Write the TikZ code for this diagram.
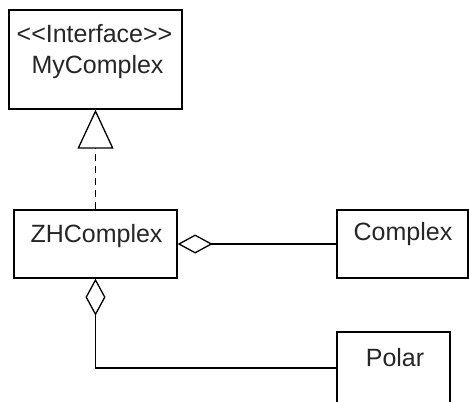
\documentclass[tikz,border=0pt]{standalone}
\usepackage{fontspec}
\setmainfont{Liberation Sans}
\usetikzlibrary{arrows.meta}

\tikzset{
  classbox/.style={draw, line width=0.65pt, rectangle, inner sep=0pt},
  classname/.style={font=\fontsize{12.5}{16}\selectfont, inner sep=0pt, text=black!85}
}

\begin{document}
\begin{tikzpicture}[x=0.5pt,y=-0.5pt]
\useasboundingbox (0,0) rectangle (469,401);
\clip (0,0) rectangle (469,401);
\node[classbox, minimum width=86.5pt, minimum height=49.5pt] (mycomplex) at (95.5,59.5) {};
\node[classbox, minimum width=81.5pt, minimum height=34pt] (zhcomplex) at (95.5,244) {};
\node[classbox, minimum width=65.5pt, minimum height=34pt] (complex) at (402.5,244) {};
\node[classbox, minimum width=56.5pt, minimum height=36pt] (polar) at (393.5,368) {};
\node[classname] (stereo) at (94.5,34) {{<}{<}Interface{>}{>}};
\node[classname] (mycomplexname) at (97.5,67) {MyComplex};
\node[classname] (zhcomplexname) at (96.5,236) {ZHComplex};
\node[classname] (complexname) at (403,234) {Complex};
\node[classname] (polarname) at (395,358) {Polar};
\draw[line width=0.65pt, dash pattern=on 3.5pt off 2.5pt, -{Triangle[open, length=19.5pt, width=18pt, line width=0.65pt]}] (zhcomplex.north) -- (mycomplex.south);
\draw[line width=0.65pt, {Diamond[open, length=17.5pt, width=9.5pt, line width=0.65pt]}-] (zhcomplex.east) -- (complex.west);
\draw[line width=0.65pt, {Diamond[open, length=18.5pt, width=10pt, line width=0.65pt]}-] (zhcomplex.south) |- (polar.west);
\end{tikzpicture}
\end{document}
